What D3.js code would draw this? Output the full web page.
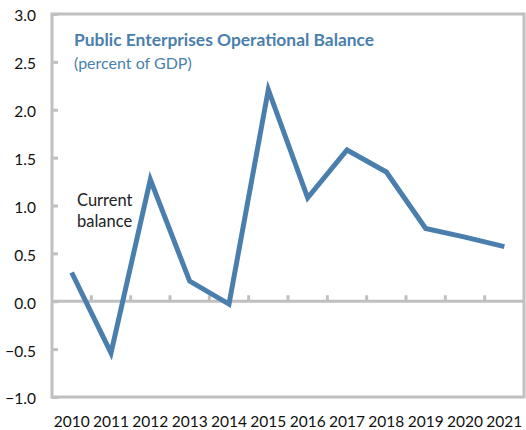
<!DOCTYPE html>
<html>
<head>
<meta charset="utf-8">
<script src="https://cdn.jsdelivr.net/npm/d3@7"></script>
<style>
  html, body { margin: 0; padding: 0; background: #fff; }
  svg text { font-family: Lato, "Open Sans", sans-serif; }
</style>
</head>
<body>
<svg id="chart" width="526" height="430"></svg>
<script>
// Public enterprises current balance, percent of GDP
const years = ["2010","2011","2012","2013","2014","2015","2016","2017","2018","2019","2020","2021"];
const balance = [0.30, -0.54, 1.27, 0.21, -0.03, 2.21, 1.08, 1.58, 1.35, 0.76, 0.67, 0.57];
const yTicks = [-1.0, -0.5, 0.0, 0.5, 1.0, 1.5, 2.0, 2.5, 3.0];

const plotLeft = 52, plotRight = 524, plotTop = 14, plotBottom = 397;
const svg = d3.select("#chart");
const grey = "#c0c0c0";
const blue = "#4a7fad";

const x = d3.scaleBand().domain(years).range([plotLeft, plotRight]);
const y = d3.scaleLinear().domain([-1, 3]).range([plotBottom, plotTop]);

// frame
svg.append("rect")
  .attr("x", plotLeft).attr("y", plotTop)
  .attr("width", plotRight - plotLeft).attr("height", plotBottom - plotTop)
  .attr("fill", "none").attr("stroke", grey).attr("stroke-width", 3);

// y axis ticks (inward) and labels
const yAxis = d3.axisLeft(y).tickValues(yTicks).tickSize(-6).tickPadding(16)
  .tickFormat(d3.format(".1f"));
const gy = svg.append("g").attr("transform", `translate(${plotLeft},0)`).call(yAxis);
gy.select(".domain").remove();
gy.selectAll(".tick line").attr("stroke", grey).attr("stroke-width", 3);
gy.selectAll(".tick text").attr("font-size", 15.5).attr("fill", "#111")
  .attr("dy", "0.45em");

// zero line with category boundary ticks pointing up
svg.append("line")
  .attr("x1", plotLeft).attr("x2", plotRight)
  .attr("y1", y(0)).attr("y2", y(0))
  .attr("stroke", grey).attr("stroke-width", 3);
svg.append("g").selectAll("line")
  .data(years.slice(1))
  .join("line")
  .attr("x1", d => x(d)).attr("x2", d => x(d))
  .attr("y1", y(0)).attr("y2", y(0) - 6)
  .attr("stroke", grey).attr("stroke-width", 3);

// x axis labels
const xAxis = d3.axisBottom(x).tickSize(0).tickPadding(0);
const gx = svg.append("g").attr("transform", `translate(0,${plotBottom + 19})`).call(xAxis);
gx.select(".domain").remove();
gx.selectAll(".tick text").attr("font-size", 15.5).attr("fill", "#111")
  .attr("dy", "0.71em");

// series line
const line = d3.line()
  .x((d, i) => x(years[i]) + x.bandwidth() / 2)
  .y(d => y(d));
svg.append("path")
  .datum(balance)
  .attr("d", line)
  .attr("fill", "none")
  .attr("stroke", blue)
  .attr("stroke-width", 5)
  .attr("stroke-linejoin", "miter");

// title
svg.append("text")
  .attr("x", 74).attr("y", 46)
  .attr("font-size", 17.4).attr("font-weight", "bold").attr("fill", blue)
  .text("Public Enterprises Operational Balance");
svg.append("text")
  .attr("x", 74).attr("y", 69)
  .attr("font-size", 16).attr("fill", blue)
  .text("(percent of GDP)");

// series label
const lab = svg.append("text").attr("font-size", 16.5).attr("fill", "#222");
lab.append("tspan").attr("x", 77).attr("y", 206).text("Current");
lab.append("tspan").attr("x", 77).attr("y", 227).text("balance");
</script>
</body>
</html>
